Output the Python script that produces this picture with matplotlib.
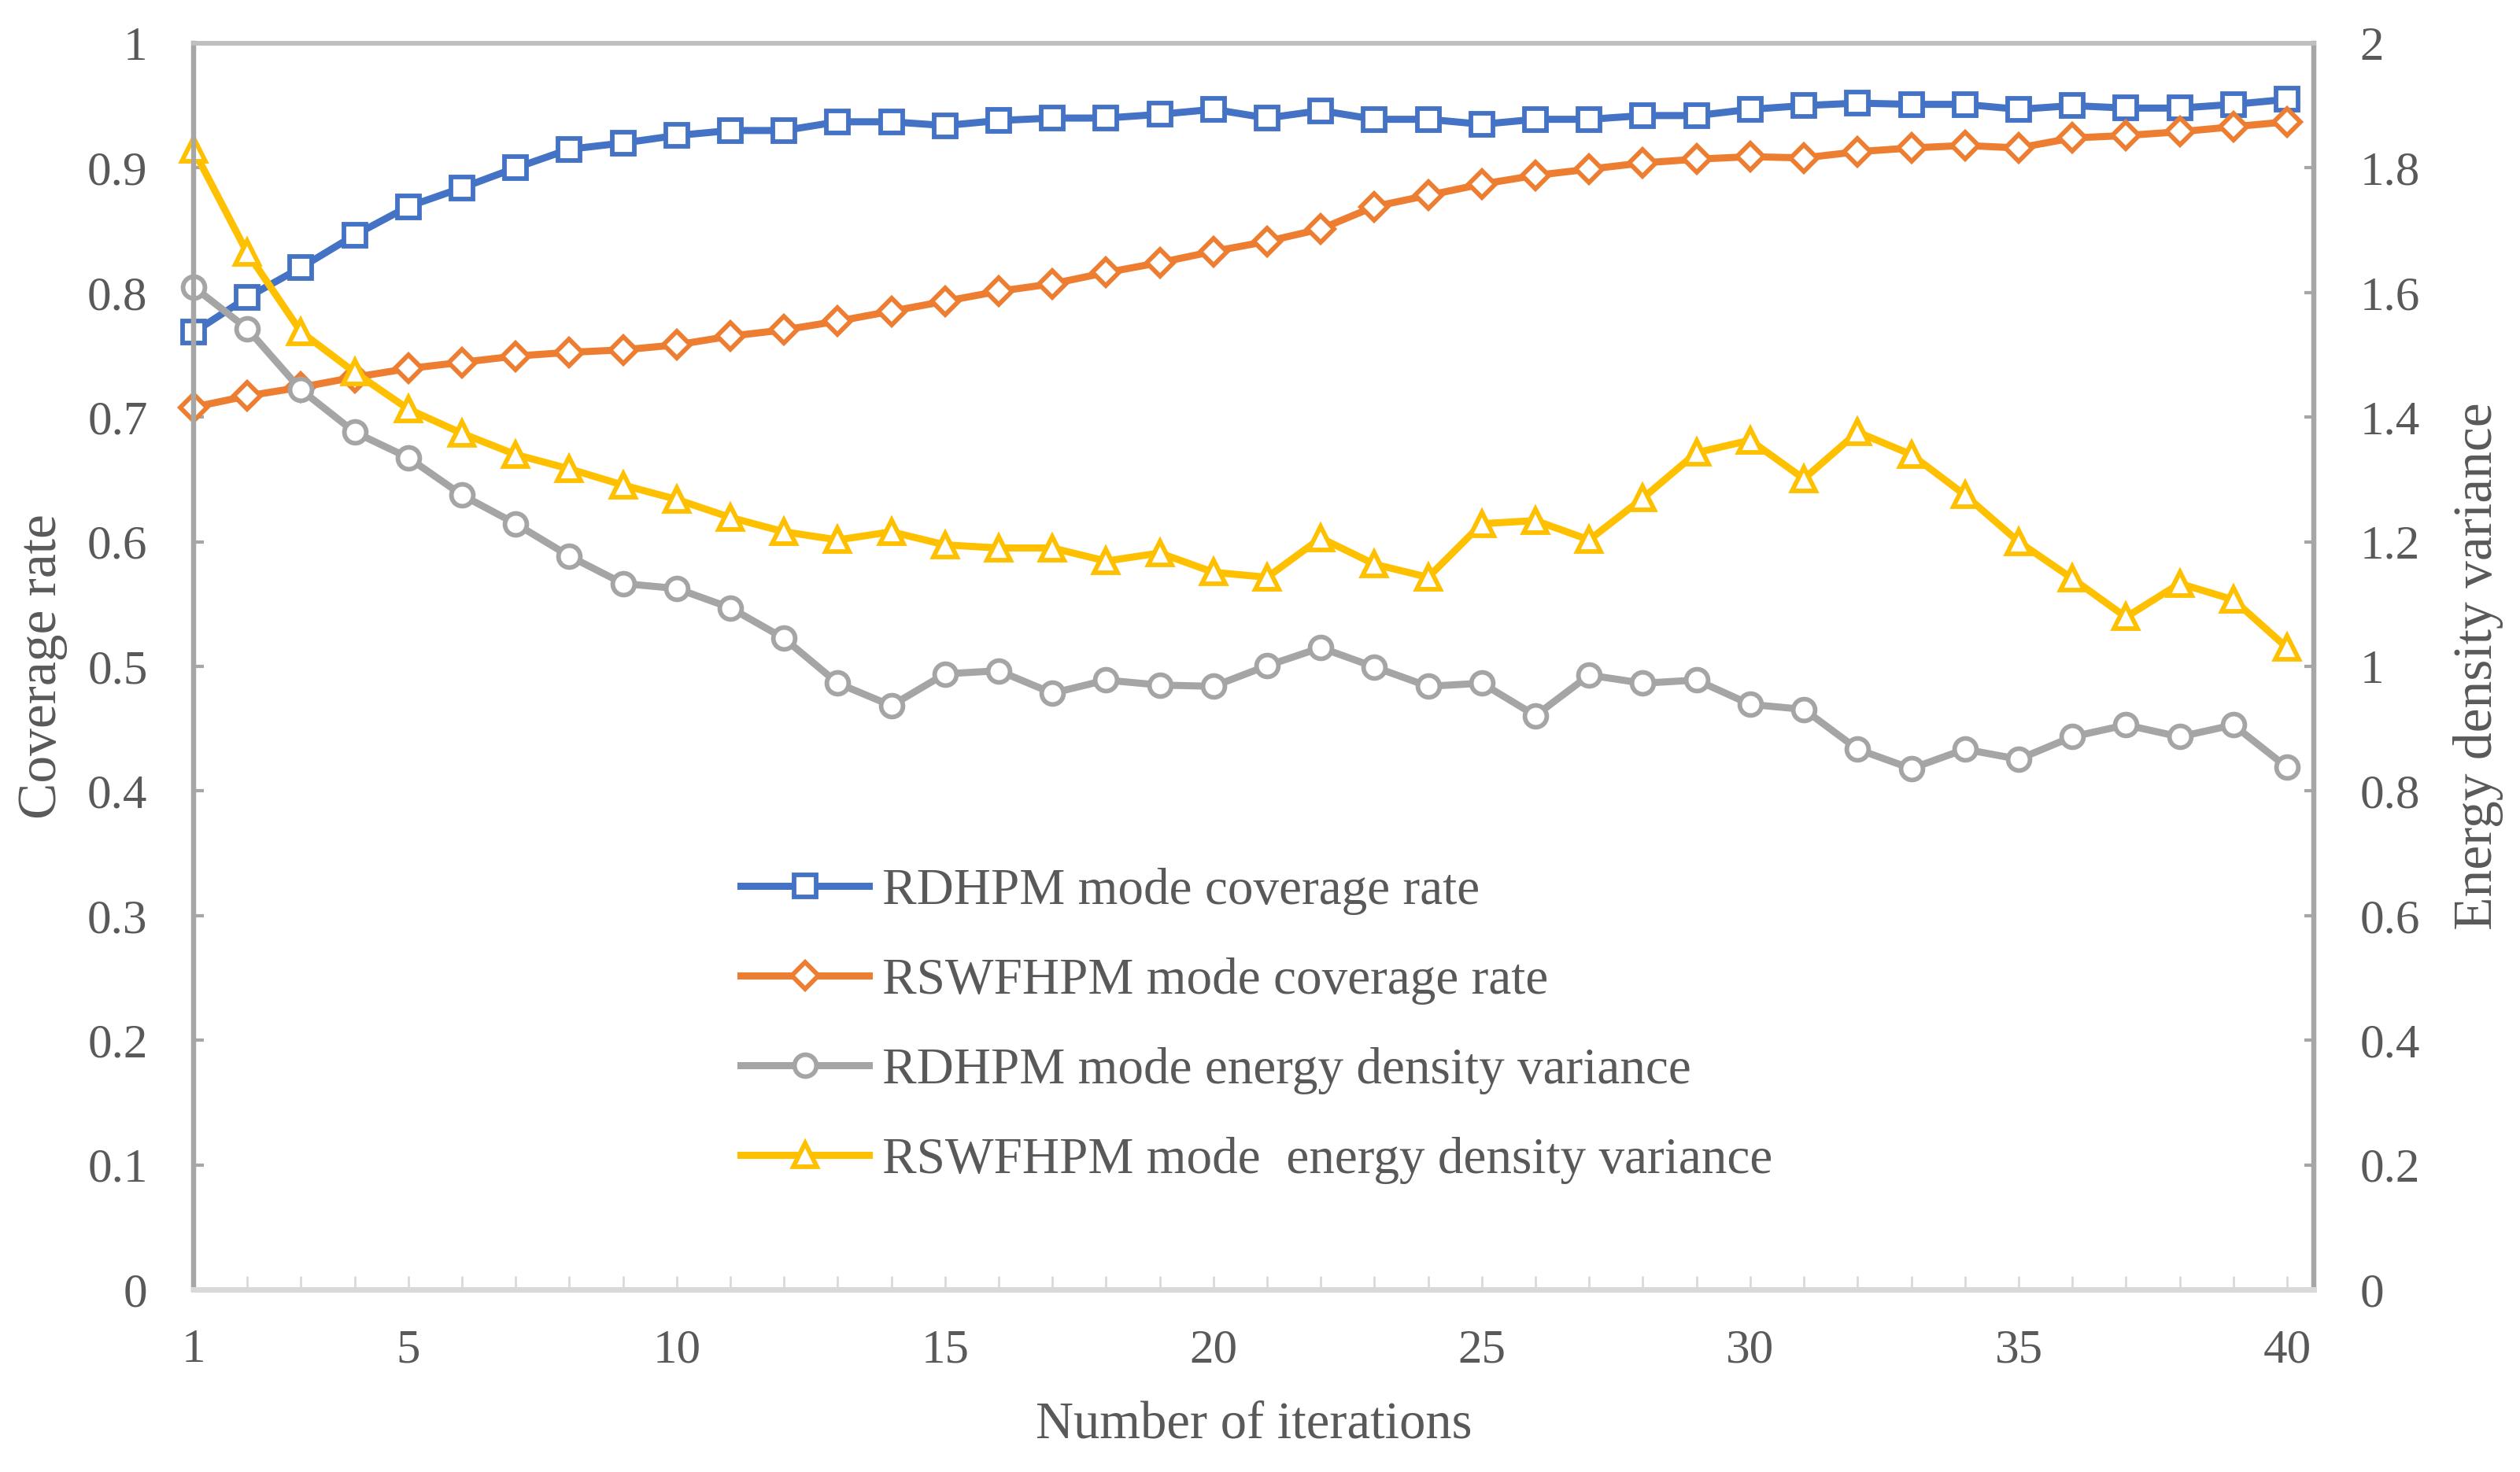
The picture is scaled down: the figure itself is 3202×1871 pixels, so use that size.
import matplotlib.pyplot as plt

# Data
iterations = list(range(1, 41))

rdhpm_coverage = [0.768, 0.796, 0.820, 0.846, 0.869, 0.884, 0.900, 0.915, 0.920, 0.926,
                  0.930, 0.930, 0.937, 0.937, 0.934, 0.938, 0.940, 0.940, 0.943, 0.947,
                  0.940, 0.946, 0.939, 0.939, 0.935, 0.939, 0.939, 0.942, 0.942, 0.947,
                  0.950, 0.952, 0.951, 0.951, 0.947, 0.950, 0.948, 0.948, 0.951, 0.955]

rswfhpm_coverage = [0.708, 0.717, 0.724, 0.732, 0.739, 0.744, 0.749, 0.752, 0.754, 0.758,
                    0.765, 0.770, 0.777, 0.785, 0.793, 0.801, 0.807, 0.816, 0.824, 0.833,
                    0.841, 0.851, 0.869, 0.878, 0.887, 0.894, 0.899, 0.904, 0.907, 0.909,
                    0.908, 0.913, 0.916, 0.918, 0.916, 0.924, 0.926, 0.929, 0.933, 0.937]

rdhpm_variance = [1.609, 1.542, 1.444, 1.376, 1.335, 1.275, 1.229, 1.177, 1.133, 1.125,
                  1.094, 1.045, 0.973, 0.937, 0.988, 0.993, 0.957, 0.978, 0.970, 0.968,
                  1.001, 1.030, 0.999, 0.968, 0.973, 0.921, 0.986, 0.973, 0.978, 0.939,
                  0.931, 0.867, 0.836, 0.867, 0.851, 0.887, 0.906, 0.887, 0.906, 0.838]

rswfhpm_variance = [1.829, 1.664, 1.537, 1.472, 1.413, 1.374, 1.340, 1.317, 1.291, 1.268,
                    1.239, 1.216, 1.203, 1.216, 1.195, 1.190, 1.190, 1.169, 1.182, 1.151,
                    1.143, 1.206, 1.164, 1.143, 1.229, 1.234, 1.203, 1.270, 1.343, 1.363,
                    1.301, 1.376, 1.340, 1.275, 1.200, 1.141, 1.079, 1.133, 1.107, 1.030]

labels = ['RDHPM mode coverage rate', 'RSWFHPM mode coverage rate',
          'RDHPM mode energy density variance', 'RSWFHPM mode  energy density variance']

x_tick_labels = [1, 5, 10, 15, 20, 25, 30, 35, 40]

plt.rcParams['font.family'] = ['Liberation Serif', 'DejaVu Serif']
text_color = '#595959'

fig = plt.figure(figsize=(32.02, 18.71), dpi=100)
ax = fig.add_axes([0.0768, 0.124, 0.8414, 0.8466])
ax2 = ax.twinx()

line_kw = dict(linewidth=6.5, markersize=20, markeredgewidth=4.2,
               markerfacecolor='white', clip_on=False)

l1, = ax.plot(iterations, rdhpm_coverage, marker='s', color='#4472C4', **line_kw)
l2, = ax.plot(iterations, rswfhpm_coverage, marker='D', color='#ED7D31',
              **{**line_kw, 'markersize': 17})
l3, = ax2.plot(iterations, rdhpm_variance, marker='o', color='#A5A5A5', **line_kw)
l4, = ax2.plot(iterations, rswfhpm_variance, marker='^', color='#FFC000',
               **{**line_kw, 'markersize': 22})

ax.set_xlim(1, 40.5)
ax.set_ylim(0, 1)
ax2.set_ylim(0, 2)

ax.set_yticks([i / 10 for i in range(11)])
ax.set_yticklabels(['0'] + [f'{i / 10:g}' for i in range(1, 10)] + ['1'])
ax2.set_yticks([i / 5 for i in range(11)])
ax2.set_yticklabels(['0'] + [f'{i / 5:g}' for i in range(1, 10)] + ['2'])

ax.set_xticks(iterations)
ax.set_xticklabels([str(i) if i in x_tick_labels else '' for i in iterations])

for a in (ax, ax2):
    for side in ('left', 'right'):
        a.spines[side].set_color('#A6A6A6')
        a.spines[side].set_linewidth(4.5)
    a.spines['top'].set_color('#BFBFBF')
    a.spines['top'].set_linewidth(4)
    a.spines['bottom'].set_color('#D9D9D9')
    a.spines['bottom'].set_linewidth(5)

ax.tick_params(axis='y', direction='in', length=9, width=3, color='#A6A6A6',
               labelsize=44, labelcolor=text_color, pad=42)
ax2.tick_params(axis='y', direction='in', length=9, width=3, color='#A6A6A6',
                labelsize=44, labelcolor=text_color, pad=42)
ax.tick_params(axis='x', direction='in', length=12, width=2, color='#D9D9D9',
               labelsize=44, labelcolor=text_color, pad=36)

ax.set_xlabel('Number of iterations', fontsize=48, color=text_color, labelpad=26)
ax.set_ylabel('Coverage rate', fontsize=50, color=text_color, labelpad=18)
ax2.set_ylabel('Energy density variance', fontsize=50, color=text_color, labelpad=30)

ax.legend([l1, l2, l3, l4], labels, loc='center left', bbox_to_anchor=(0.258, 0.2115),
          frameon=False, fontsize=47, labelcolor=text_color, handlelength=2.5,
          handletextpad=0.25, labelspacing=0.83, borderpad=0, borderaxespad=0)

fig.savefig('out.png', dpi=100)
